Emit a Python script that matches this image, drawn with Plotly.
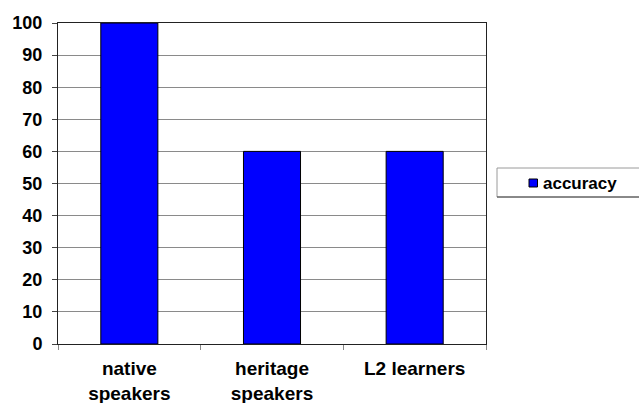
import plotly.graph_objects as go

# Accuracy by speaker group
groups = ["native<br>speakers", "heritage<br>speakers", "L2 learners"]
accuracy = [100, 60, 60]
y_ticks = [0, 10, 20, 30, 40, 50, 60, 70, 80, 90, 100]
series_name = "accuracy"

font_family = "Liberation Sans, Arial, sans-serif"
bar_color = "#0000FF"

W, H = 639, 403
L, R, T, B = 58, 153, 23, 59
plot_w, plot_h = W - L - R, H - T - B


def px_x(px):
    """Convert a pixel column to paper x."""
    return (px - L) / plot_w


def px_y(py):
    """Convert a pixel row to paper y."""
    return (H - B - py) / plot_h


fig = go.Figure()
fig.add_trace(go.Bar(
    x=groups,
    y=accuracy,
    name=series_name,
    width=0.4,
    marker=dict(color=bar_color, line=dict(color="#000000", width=1)),
    showlegend=False,
))

# Legend box drawn beside the plot
fig.add_shape(type="rect", xref="paper", yref="paper",
              x0=px_x(497), x1=px_x(660), y0=px_y(197), y1=px_y(168),
              line=dict(color="#9a9a9a", width=1), fillcolor="white", layer="above")
fig.add_shape(type="line", xref="paper", yref="paper",
              x0=px_x(497), x1=px_x(660), y0=px_y(197), y1=px_y(197),
              line=dict(color="#444444", width=1), layer="above")
fig.add_shape(type="rect", xref="paper", yref="paper",
              x0=px_x(529), x1=px_x(537.5), y0=px_y(187), y1=px_y(179),
              line=dict(color="#000000", width=1), fillcolor=bar_color, layer="above")
fig.add_annotation(xref="paper", yref="paper", x=px_x(541), y=px_y(183),
                   xanchor="left", yanchor="middle", showarrow=False,
                   text=series_name,
                   font=dict(size=17, family=font_family, weight="bold", color="#000000"))

fig.update_layout(
    width=W,
    height=H,
    margin=dict(l=L, r=R, t=T, b=B),
    paper_bgcolor="white",
    plot_bgcolor="white",
    showlegend=False,
    font=dict(family=font_family, color="#000000"),
    xaxis=dict(
        type="category",
        automargin=False,
        showline=True, linecolor="#222222", linewidth=1, mirror=True,
        ticks="outside", tickson="boundaries", ticklen=5, tickcolor="#888888",
        tickfont=dict(size=19, family=font_family, weight="bold"),
        ticklabelstandoff=7,
        showgrid=False,
    ),
    yaxis=dict(
        range=[0, 100],
        tickvals=y_ticks,
        automargin=False,
        showline=True, linecolor="#222222", linewidth=1, mirror=True,
        ticks="outside", ticklen=5, tickcolor="#444444",
        tickfont=dict(size=18, family=font_family, weight="bold"),
        ticklabelstandoff=6,
        showgrid=True, gridcolor="#8a8a8a", gridwidth=1,
        zeroline=False,
    ),
)

fig.write_html("out.html")
